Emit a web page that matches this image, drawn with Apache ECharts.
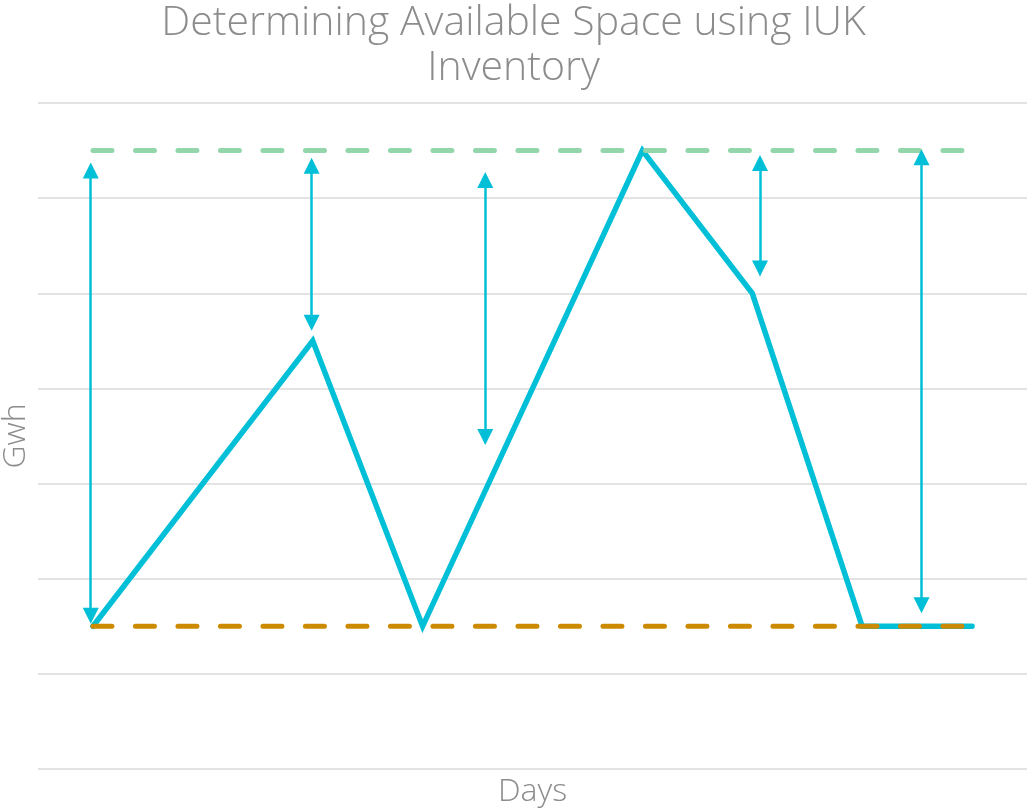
<!DOCTYPE html>
<html>
<head>
<meta charset="utf-8">
<title>Determining Available Space using IUK Inventory</title>
<script src="https://cdn.jsdelivr.net/npm/echarts@6/dist/echarts.min.js"></script>
<style>
	html, body { margin: 0; padding: 0; background: #fff; }
	#chart { width: 1027px; height: 811px; }
</style>
</head>
<body>
<div id="chart"></div>
<script>
// 库存曲线（天数索引, Gwh）
var days = [0, 2, 3, 5, 6, 7, 8];
var inventory = [1.5, 4.5, 1.5, 6.5, 5, 1.5, 1.5];

// 上下限
var maxDays = [0, 8];
var maxLevel = [6.5, 6.5];
var minDays = [0, 8];
var minLevel = [1.5, 1.5];

// 可用空间箭头 [天数, 下端, 上端]（箭头中心）
var arrowX = [-0.02, 1.99, 3.57, 6.07, 7.54];
var arrowLow = [1.61, 4.69, 3.49, 5.26, 1.72];
var arrowHigh = [6.29, 6.34, 6.19, 6.37, 6.43];

var yTicks = [0, 1, 2, 3, 4, 5, 6, 7];

function zip(xs, ys) {
	var out = [];
	for (var i = 0; i < xs.length; i++) {
		out.push([xs[i], ys[i]]);
	}
	return out;
}

var arrows = [];
for (var i = 0; i < arrowX.length; i++) {
	arrows.push({ coords: [[arrowX[i], arrowLow[i]], [arrowX[i], arrowHigh[i]]] });
}

var font = "'Open Sans', 'DejaVu Sans', sans-serif";
var grey = '#8c8c8c';
var chart = echarts.init(document.getElementById('chart'));

chart.setOption({
	animation: false,
	title: {
		text: 'Determining Available Space using IUK\nInventory',
		left: 'center',
		top: -4,
		textStyle: {
			color: grey,
			fontFamily: font,
			fontWeight: 300,
			fontSize: 41,
			lineHeight: 45
		}
	},
	grid: { left: 38, right: 0, top: 103, bottom: 42, outerBoundsMode: 'none' },
	xAxis: {
		type: 'value',
		min: -0.5,
		max: 8.5,
		name: 'Days',
		nameLocation: 'middle',
		nameGap: 7,
		nameTextStyle: { color: grey, fontFamily: font, fontWeight: 300, fontSize: 32 },
		axisLine: { show: false },
		axisTick: { show: false },
		axisLabel: { show: false },
		splitLine: { show: false }
	},
	yAxis: {
		type: 'value',
		min: yTicks[0],
		max: yTicks[yTicks.length - 1],
		interval: 1,
		name: 'Gwh',
		nameLocation: 'middle',
		nameGap: 6,
		nameTextStyle: { color: grey, fontFamily: font, fontWeight: 300, fontSize: 32 },
		axisLine: { show: false },
		axisTick: { show: false },
		axisLabel: { show: false },
		splitLine: { lineStyle: { color: '#e3e3e3', width: 2 } }
	},
	series: [
		{
			name: 'Inventory',
			type: 'line',
			data: zip(days, inventory),
			symbol: 'none',
			lineStyle: { color: '#00bfd6', width: 5.5, cap: 'round', join: 'miter' },
			z: 2
		},
		{
			name: 'Max',
			type: 'line',
			data: zip(maxDays, maxLevel),
			symbol: 'none',
			lineStyle: { color: '#93d6ac', width: 5, type: [19, 23.5], cap: 'round' },
			z: 3
		},
		{
			name: 'Min',
			type: 'line',
			data: zip(minDays, minLevel),
			symbol: 'none',
			lineStyle: { color: '#cc8a00', width: 5, type: [19, 23.5], cap: 'round' },
			z: 3
		},
		{
			name: 'Space',
			type: 'lines',
			coordinateSystem: 'cartesian2d',
			symbol: ['triangle', 'triangle'],
			symbolSize: [16, 16],
			lineStyle: { color: '#00bfd6', width: 2.5, opacity: 1 },
			data: arrows,
			z: 4
		}
	]
});
</script>
</body>
</html>
